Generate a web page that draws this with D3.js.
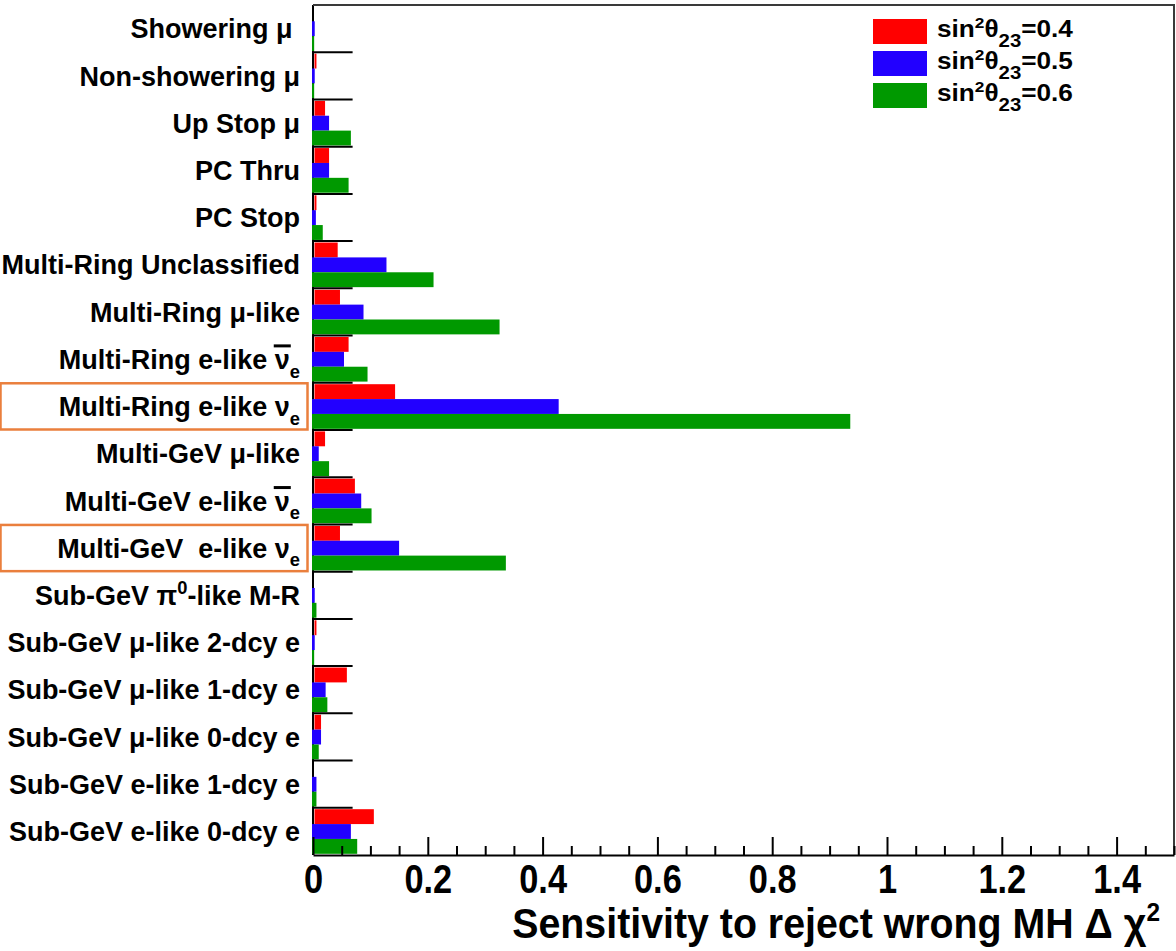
<!DOCTYPE html>
<html>
<head>
<meta charset="utf-8">
<script src="https://cdn.jsdelivr.net/npm/d3@7"></script>
<style>
  html, body { margin: 0; padding: 0; background: #fff; }
  svg { display: block; font-family: "Liberation Sans", Arial, Helvetica, sans-serif; font-weight: bold; }
  text { white-space: pre; }
</style>
</head>
<body>
<svg id="chart" width="1176" height="951"></svg>
<script>
// Event samples (top to bottom). Labels use a small TLatex-like markup:
// _{..} subscript, ^{..} superscript, #bar{..} overline.
const categories = [
  "Showering μ ",
  "Non-showering μ",
  "Up Stop μ",
  "PC Thru",
  "PC Stop",
  "Multi-Ring Unclassified",
  "Multi-Ring μ-like",
  "Multi-Ring e-like #bar{ν}_{e}",
  "Multi-Ring e-like ν_{e}",
  "Multi-GeV μ-like",
  "Multi-GeV e-like #bar{ν}_{e}",
  "Multi-GeV  e-like ν_{e}",
  "Sub-GeV π^{0}-like M-R",
  "Sub-GeV μ-like 2-dcy e",
  "Sub-GeV μ-like 1-dcy e",
  "Sub-GeV μ-like 0-dcy e",
  "Sub-GeV e-like 1-dcy e",
  "Sub-GeV e-like 0-dcy e"
];

// Δχ² to reject the wrong mass hierarchy, per sample
const sin2_04 = [0.000, 0.006, 0.021, 0.028, 0.006, 0.043, 0.047, 0.062, 0.143, 0.021, 0.073, 0.047, 0.000, 0.006, 0.059, 0.014, 0.000, 0.106];
const sin2_05 = [0.003, 0.003, 0.028, 0.028, 0.005, 0.128, 0.088, 0.054, 0.428, 0.010, 0.084, 0.150, 0.003, 0.003, 0.022, 0.014, 0.006, 0.066];
const sin2_06 = [0.002, 0.002, 0.066, 0.062, 0.017, 0.210, 0.325, 0.095, 0.936, 0.028, 0.102, 0.336, 0.006, 0.002, 0.025, 0.010, 0.006, 0.077];

const seriesNames = ["0.4", "0.5", "0.6"];
const seriesColors = ["#ff0000", "#2200ff", "#009900"];

// samples framed in orange
const highlighted = ["Multi-Ring e-like ν_{e}", "Multi-GeV  e-like ν_{e}"];

const xMajorTicks = [0, 0.2, 0.4, 0.6, 0.8, 1, 1.2, 1.4];
const xDomain = [0, 1.5];

const series = [sin2_04, sin2_05, sin2_06].map((vals, k) => ({
  name: seriesNames[k], color: seriesColors[k], values: vals
}));

const svg = d3.select("#chart");
const plot = { left: 313, right: 1174, top: 5, bottom: 855 };

const x = d3.scaleLinear().domain(xDomain).range([plot.left, plot.right]);
const y = d3.scaleBand().domain(categories).range([plot.top, plot.bottom]).padding(0);
const bw = y.bandwidth();

// rich-text helper for the markup above
function richText(sel, src, baseSize, opts = {}) {
  const subScale = opts.subScale || 0.68, supScale = opts.supScale || 0.68;
  const subDrop = opts.subDrop || 0.32, supRise = opts.supRise || 0.42;
  const re = /(#bar\{([^}]*)\})|(_\{([^}]*)\})|(\^\{([^}]*)\})|([^#_^]+)/g;
  let m;
  const parts = [];
  while ((m = re.exec(src)) !== null) {
    if (m[1]) parts.push({ t: m[2], kind: "bar" });
    else if (m[3]) parts.push({ t: m[4], kind: "sub" });
    else if (m[5]) parts.push({ t: m[6], kind: "sup" });
    else parts.push({ t: m[7], kind: "normal" });
  }
  let shift = 0;
  parts.forEach(p => {
    const ts = sel.append("tspan").text(p.t);
    if (p.kind === "sub") {
      ts.attr("font-size", baseSize * subScale).attr("dy", baseSize * subDrop - shift);
      shift = baseSize * subDrop;
    } else if (p.kind === "sup") {
      ts.attr("font-size", baseSize * supScale).attr("dy", -baseSize * supRise - shift);
      shift = -baseSize * supRise;
    } else {
      if (shift !== 0) { ts.attr("dy", -shift); shift = 0; }
      if (p.kind === "bar") ts.attr("class", "overbar");
    }
  });
}

// stretch/squeeze a text element horizontally about a fixed x
function fitWidth(node, target, ax) {
  const w = node.getComputedTextLength();
  if (!w) return;
  const s = target / w;
  d3.select(node).attr("transform", `translate(${ax},0) scale(${s},1) translate(${-ax},0)`);
}

// y-axis line
svg.append("line")
  .attr("x1", plot.left).attr("x2", plot.left)
  .attr("y1", plot.top).attr("y2", plot.bottom)
  .attr("stroke", "#000").attr("stroke-width", 2);

// bars: three per sample, stacked vertically inside each row
const barFrac = 0.315, barStart = 0.03;
series.forEach((s, k) => {
  const inset = k === 0 ? 1.5 : -1;
  svg.append("g").selectAll("rect")
    .data(categories.map((c, i) => ({ c, v: s.values[i] })))
    .join("rect")
    .attr("x", x(0) + inset)
    .attr("y", d => y(d.c) + bw * (barStart + k * barFrac))
    .attr("width", d => Math.max(0, x(d.v) - x(0) - inset))
    .attr("height", bw * barFrac)
    .attr("fill", s.color);
});

// frame: top and right edges
svg.append("path")
  .attr("d", `M${plot.left},${plot.top}H${plot.right}V${plot.bottom}`)
  .attr("fill", "none").attr("stroke", "#3a3a3a").attr("stroke-width", 2);

// bin-boundary ticks on the y axis
const yTickLen = (plot.right - plot.left) * 0.046;
svg.append("g").selectAll("line")
  .data(categories.slice(1))
  .join("line")
  .attr("x1", plot.left - 1).attr("x2", plot.left + yTickLen)
  .attr("y1", d => y(d)).attr("y2", d => y(d))
  .attr("stroke", "#000").attr("stroke-width", 2);

// x axis
const xMinorTicks = d3.range(0, 1.5001, 0.05).filter(v => !xMajorTicks.some(t => Math.abs(t - v) < 1e-6));
const gMinor = svg.append("g").attr("transform", `translate(0,${plot.bottom})`)
  .call(d3.axisBottom(x).tickValues(xMinorTicks).tickSize(-9).tickFormat(""));
gMinor.select(".domain").remove();
gMinor.selectAll(".tick line").attr("stroke", "#000").attr("stroke-width", 2);

const gMajor = svg.append("g").attr("transform", `translate(0,${plot.bottom})`)
  .call(d3.axisBottom(x).tickValues(xMajorTicks).tickSizeInner(-18).tickSizeOuter(0).tickPadding(0)
    .tickFormat(d => String(d)));
gMajor.select(".domain").attr("stroke", "#000").attr("stroke-width", 2);
gMajor.selectAll(".tick line").attr("stroke", "#000").attr("stroke-width", 2);
gMajor.selectAll(".tick text")
  .attr("y", 38).attr("dy", null)
  .attr("font-family", "Liberation Sans, Arial, sans-serif")
  .attr("font-weight", "bold").attr("font-size", 40).attr("fill", "#000")
  .each(function () { fitWidth(this, this.getComputedTextLength() * 0.86, 0); });

// axis title
const title = svg.append("text")
  .attr("x", 1160).attr("y", 938)
  .attr("text-anchor", "end").attr("font-size", 42).attr("fill", "#000");
richText(title, "Sensitivity to reject wrong MH Δ χ^{2}", 42, { supScale: 0.62, supRise: 0.4 });
fitWidth(title.node(), 648, 1160);

// category labels
const labelSize = 27;
const labels = svg.append("g").selectAll("text")
  .data(categories)
  .join("text")
  .attr("x", 300)
  .attr("y", d => y(d) + bw / 2 + labelSize * 0.36)
  .attr("text-anchor", "end")
  .attr("font-size", labelSize)
  .attr("fill", "#000")
  .each(function (d) { richText(d3.select(this), d, labelSize); });

// overlines on anti-neutrino labels
labels.each(function () {
  d3.select(this).selectAll("tspan.overbar").each(function () {
    const n = this.getNumberOfChars();
    if (!n) return;
    const first = this.getExtentOfChar(0);
    const last = this.getExtentOfChar(n - 1);
    svg.append("line")
      .attr("x1", first.x - 1).attr("x2", last.x + last.width + 1)
      .attr("y1", first.y + 1).attr("y2", first.y + 1)
      .attr("stroke", "#000").attr("stroke-width", 3);
  });
});

// orange frames around the highlighted samples
svg.append("g").selectAll("rect")
  .data(highlighted)
  .join("rect")
  .attr("x", 0.5).attr("width", 307)
  .attr("y", d => y(d) + 0.5).attr("height", bw - 1)
  .attr("fill", "none").attr("stroke", "#ea7f3d").attr("stroke-width", 2.5);

// legend
const legend = svg.append("g");
series.forEach((s, k) => {
  const cy = 31.5 + k * 32;
  legend.append("rect")
    .attr("x", 873).attr("y", cy - 12.5).attr("width", 54).attr("height", 25)
    .attr("fill", s.color);
  const t = legend.append("text")
    .attr("x", 937).attr("y", cy + 6)
    .attr("font-size", 23).attr("fill", "#000");
  richText(t, "sin^{2}θ_{23}=" + s.name, 23, { subScale: 0.78, subDrop: 0.42, supScale: 0.66, supRise: 0.4 });
  fitWidth(t.node(), 136, 937);
});
</script>
</body>
</html>
